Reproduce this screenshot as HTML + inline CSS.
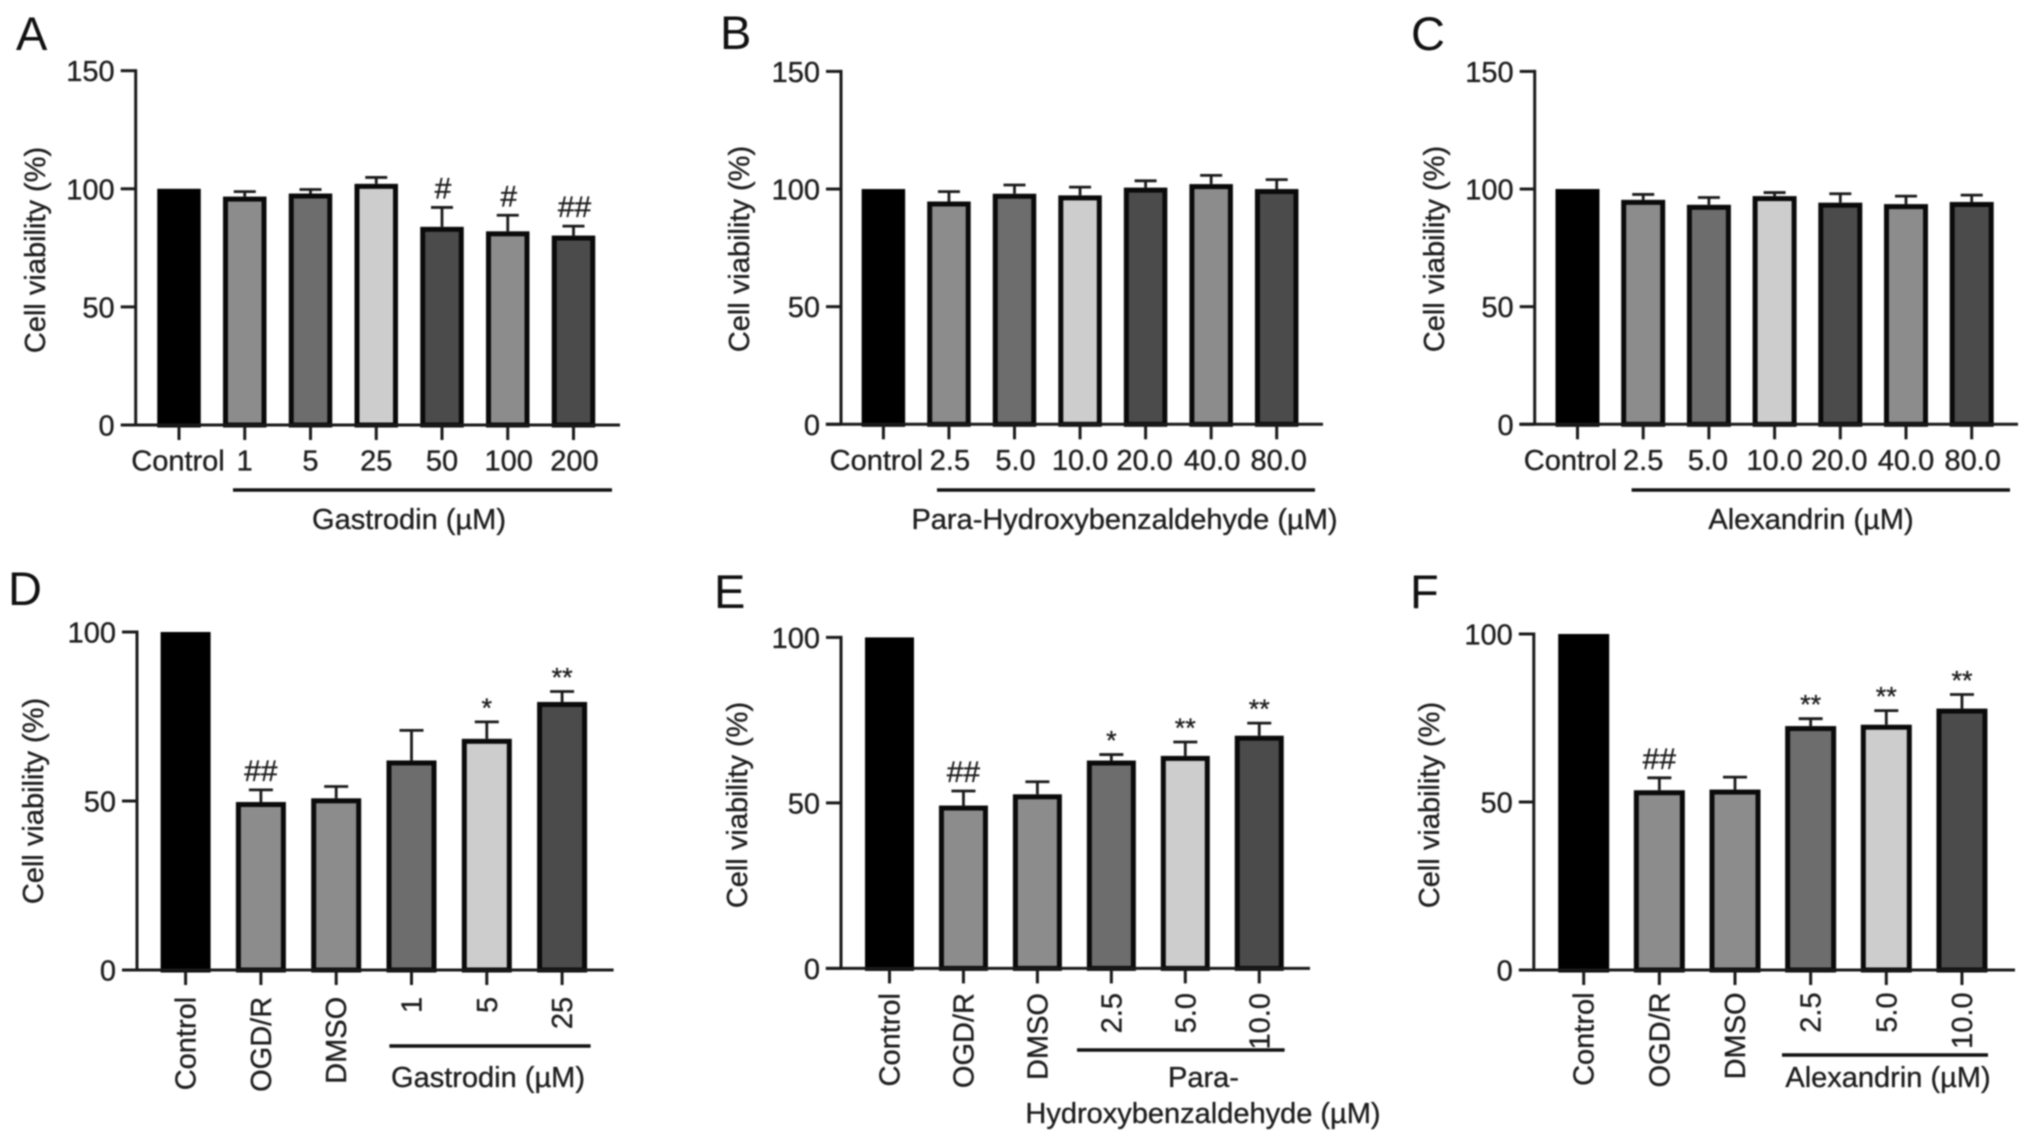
<!DOCTYPE html>
<html lang="en">
<head>
<meta charset="utf-8">
<title>Cell viability panels A-F</title>
<style>
  html,body{margin:0;padding:0;background:#fff;}
  body{width:2032px;height:1141px;overflow:hidden;}
  #figure{display:block;filter:blur(0.7px);}
  text{font-family:"Liberation Sans",sans-serif;fill:#1e1e1e;stroke:#1e1e1e;stroke-width:0.35px;}
</style>
</head>
<body>
<svg id="figure" xmlns="http://www.w3.org/2000/svg" width="2032" height="1141" viewBox="0 0 2032 1141"></svg>
<script>
// ---- Data ----
const panelACategories = ['Control','1','5','25','50','100','200'];
const panelAValues = [100,96.7,98,102.1,83.9,82,80.2];
const panelAErrorTops = [100,98.8,99.7,104.8,92.1,88.8,84.2];
const panelAMarks = ['','','','','#','#','##'];

const panelBCategories = ['Control','2.5','5.0','10.0','20.0','40.0','80.0'];
const panelBValues = [100,94.7,98,97.3,100.6,102.1,100];
const panelBErrorTops = [100,98.9,101.7,100.8,103.5,105.8,104];
const panelBMarks = ['','','','','','',''];

const panelCCategories = ['Control','2.5','5.0','10.0','20.0','40.0','80.0'];
const panelCValues = [100,95.4,93.3,97,94.2,93.6,94.5];
const panelCErrorTops = [100,97.7,96.4,98.5,98,97,97.4];
const panelCMarks = ['','','','','','',''];

const panelDCategories = ['Control','OGD/R','DMSO','1','5','25'];
const panelDValues = [100,49.7,50.8,62,68.4,79.3];
const panelDErrorTops = [100,53.3,54.3,70.9,73.4,82.4];
const panelDMarks = ['','##','','','*','**'];

const panelECategories = ['Control','OGD/R','DMSO','2.5','5.0','10.0'];
const panelEValues = [100,49.2,52.6,62.8,64.2,70.3];
const panelEErrorTops = [100,53.6,56.4,64.6,68.4,74.1];
const panelEMarks = ['','##','','*','**','**'];

const panelFCategories = ['Control','OGD/R','DMSO','2.5','5.0','10.0'];
const panelFValues = [100,53.5,53.7,72.6,73,77.8];
const panelFErrorTops = [100,57.2,57.4,74.8,77.2,82];
const panelFMarks = ['','##','','**','**','**'];

const topTicks = [0,50,100,150];
const bottomTicks = [0,50,100];
const topFills = ['#000000','#8c8c8c','#6d6d6d','#cdcdcd','#4b4b4b','#8c8c8c','#4b4b4b'];
const bottomFills = ['#000000','#8c8c8c','#8c8c8c','#6d6d6d','#cdcdcd','#4b4b4b'];

// ---- Layout of each panel ----
const panels = [
 {id:'a',letter:'A',lx:16,ly:50,cats:panelACategories,vals:panelAValues,errs:panelAErrorTops,marks:panelAMarks,ticks:topTicks,fills:topFills,max:150,
  axisX:135.7,yTop:70.7,y0:425,xL:121,xR:620,x0:179,step:65.75,bw:43.5,rotated:false,labelDx:[-1,0,0,0,0,1,1],
  titleX:36,titleY:250,line:[233,612,490],group:[['Gastrodin (µM)',409,529]],capW:22},
 {id:'b',letter:'B',lx:720,ly:49,cats:panelBCategories,vals:panelBValues,errs:panelBErrorTops,marks:panelBMarks,ticks:topTicks,fills:topFills,max:150,
  axisX:841,yTop:71.4,y0:424.3,xL:825.8,xR:1323,x0:883.4,step:65.55,bw:43.5,rotated:false,labelDx:[-7,1,1,0,-1,1,2],
  titleX:740,titleY:249,line:[937,1315,490],group:[['Para-Hydroxybenzaldehyde (µM)',1124.5,529]],capW:22},
 {id:'c',letter:'C',lx:1411,ly:50,cats:panelCCategories,vals:panelCValues,errs:panelCErrorTops,marks:panelCMarks,ticks:topTicks,fills:topFills,max:150,
  axisX:1534.7,yTop:71.4,y0:424.3,xL:1519.3,xR:2018,x0:1577.5,step:65.7,bw:44,rotated:false,labelDx:[-7,0,-1,0,-1,0,1],
  titleX:1435,titleY:249,line:[1631.6,2010,490],group:[['Alexandrin (µM)',1811,529]],capW:22},
 {id:'d',letter:'D',lx:8,ly:605,cats:panelDCategories,vals:panelDValues,errs:panelDErrorTops,marks:panelDMarks,ticks:bottomTicks,fills:bottomFills,max:100,
  axisX:137,yTop:632,y0:970,xL:122.3,xR:613.6,x0:185.6,step:75.3,bw:50,rotated:true,labelTop:996.8,
  titleX:34,titleY:801,line:[389.4,590.6,1046],group:[['Gastrodin (µM)',488,1087]],capW:24},
 {id:'e',letter:'E',lx:714,ly:608,cats:panelECategories,vals:panelEValues,errs:panelEErrorTops,marks:panelEMarks,ticks:bottomTicks,fills:bottomFills,max:100,
  axisX:841,yTop:637.4,y0:968.4,xL:825.8,xR:1310,x0:889.5,step:73.95,bw:49,rotated:true,labelTop:993,
  titleX:738,titleY:805,line:[1077,1284.6,1050],group:[['Para-',1203.5,1087],['Hydroxybenzaldehyde (µM)',1203,1123]],capW:24},
 {id:'f',letter:'F',lx:1410,ly:608,cats:panelFCategories,vals:panelFValues,errs:panelFErrorTops,marks:panelFMarks,ticks:bottomTicks,fills:bottomFills,max:100,
  axisX:1533.8,yTop:634,y0:970,xL:1519.3,xR:2015,x0:1583.7,step:75.65,bw:51,rotated:true,labelTop:992.4,
  titleX:1430,titleY:805,line:[1782,1988,1055],group:[['Alexandrin (µM)',1888,1087]],capW:24}
];

const svg = document.getElementById('figure');
const NS = 'http://www.w3.org/2000/svg';
const AXIS = '#1a1a1a';
const FONT = 29;
const STROKE = 5;

function mk(parent, tag, attrs, txt){
  const el = document.createElementNS(NS, tag);
  for (const k in attrs) el.setAttribute(k, attrs[k]);
  if (txt !== undefined) el.textContent = txt;
  parent.appendChild(el);
  return el;
}
function yScale(p, v){ return p.y0 - v * (p.y0 - p.yTop) / p.max; }
function xScale(p, i){ return p.x0 + i * p.step; }

panels.forEach(function(p){
  const g = mk(svg, 'g', {});
  
  

  const letter = mk(g, 'text', {x:p.lx, y:p.ly, 'font-size':47, style:'fill:#111;stroke:none'}, p.letter);
  
  

  const title = mk(g, 'text', {x:p.titleX, y:p.titleY, 'font-size':FONT, 'text-anchor':'middle', 'dominant-baseline':'central',
    transform:'rotate(-90 ' + p.titleX + ' ' + p.titleY + ')'}, 'Cell viability (%)');
  
  

  // bars and error bars first, so the axis sits on top
  p.vals.forEach(function(v, i){
    const cx = xScale(p, i);
    const top = yScale(p, v);
    const capY = yScale(p, p.errs[i]);
    if (p.errs[i] > v) {
      const stem = mk(g, 'line', {x1:cx, x2:cx, y1:capY, y2:top, stroke:AXIS, 'stroke-width':2.8});
      
      
      const cap = mk(g, 'line', {x1:cx - p.capW / 2, x2:cx + p.capW / 2, y1:capY, y2:capY, stroke:AXIS, 'stroke-width':2.8});
      
      
    }
    const bar = mk(g, 'rect', {x:cx - p.bw / 2 + STROKE / 2, y:top + STROKE / 2, width:p.bw - STROKE,
      height:Math.max(0, p.y0 - top - STROKE / 2), fill:p.fills[i], stroke:i === 0 ? '#000' : '#0a0a0a', 'stroke-width':STROKE});
    
    

    const mark = p.marks[i];
    if (mark) {
      const isHash = mark.charAt(0) === '#';
      const t = mk(g, 'text', {x:cx + (p.rotated ? 0 : 1), y:capY - (isHash ? 9 : 5), 'font-size':isHash ? 30 : 27, 'text-anchor':'middle'}, mark);
      
      
    }

    const tick = mk(g, 'line', {x1:cx, x2:cx, y1:p.y0, y2:p.y0 + 15, stroke:AXIS, 'stroke-width':3});
    
    

    let lab;
    if (p.rotated) {
      const lx = cx + 1;
      lab = mk(g, 'text', {x:lx, y:p.labelTop, 'font-size':FONT, 'text-anchor':'end', 'dominant-baseline':'central',
        transform:'rotate(-90 ' + lx + ' ' + p.labelTop + ')'}, p.cats[i]);
    } else {
      lab = mk(g, 'text', {x:cx + p.labelDx[i], y:p.y0 + 45.5, 'font-size':FONT, 'text-anchor':'middle'}, p.cats[i]);
    }
    
    
  });

  // axes
  const yAxis = mk(g, 'line', {x1:p.axisX, x2:p.axisX, y1:p.yTop - 1.5, y2:p.y0, stroke:AXIS, 'stroke-width':3});
  
  
  const xAxis = mk(g, 'line', {x1:p.xL, x2:p.xR, y1:p.y0, y2:p.y0, stroke:AXIS, 'stroke-width':3});
  
  

  p.ticks.forEach(function(t){
    const y = yScale(p, t);
    const tick = mk(g, 'line', {x1:p.axisX - 15, x2:p.axisX, y1:y, y2:y, stroke:AXIS, 'stroke-width':3});
    
    
    const lab = mk(g, 'text', {x:p.axisX - 21, y:y + 10.5, 'font-size':FONT, 'text-anchor':'end'}, String(t));
    
    
  });

  // treatment group bracket + label
  const groupLine = mk(g, 'line', {x1:p.line[0], x2:p.line[1], y1:p.line[2], y2:p.line[2], stroke:'#111', 'stroke-width':3.6});
  
  
  p.group.forEach(function(row, i){
    const t = mk(g, 'text', {x:row[1], y:row[2], 'font-size':FONT, 'text-anchor':'middle'}, row[0]);
    
    
  });
});
</script>
</body>
</html>
